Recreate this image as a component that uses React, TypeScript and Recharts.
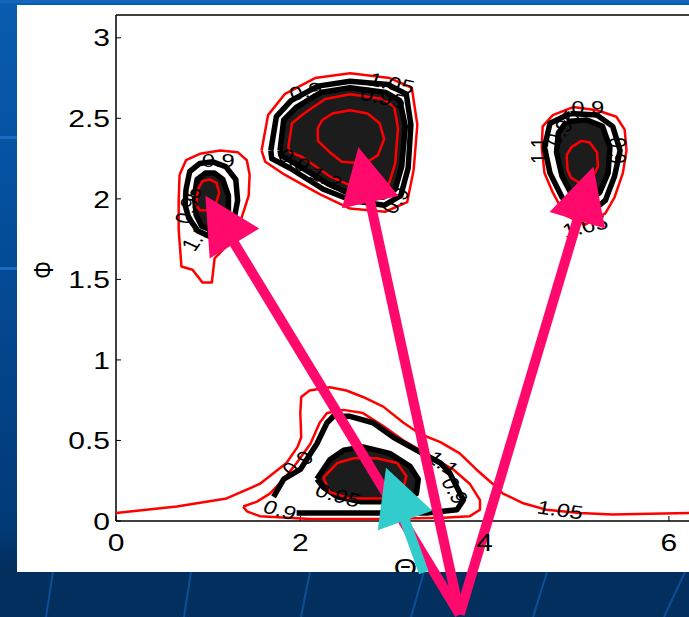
import React from "react";
import { ComposedChart, Scatter, XAxis, YAxis, ReferenceLine } from "recharts";

type Pt = [number, number];

// axes: Θ runs 0..2π, Φ runs 0..π
const THETA_MAX = 2 * Math.PI;
const PHI_MAX = Math.PI;
const THETA_TICKS = [0, 2, 4, 6];
const PHI_TICKS = [0, 0.5, 1, 1.5, 2, 2.5, 3];

// big lobe near (2.5, 2.4)
const BIG_RED_OUTER: Pt[] = [[1.58, 2.3], [1.65, 2.52], [1.83, 2.65], [2.16, 2.75], [2.54, 2.78], [2.97, 2.75], [3.21, 2.69], [3.27, 2.46], [3.23, 2.18], [3.16, 1.98], [2.92, 1.92], [2.54, 1.94], [2.21, 2.03], [1.83, 2.15], [1.62, 2.23]];
const BIG_BLACK_RING: Pt[] = [[1.68, 2.3], [1.74, 2.51], [1.9, 2.61], [2.19, 2.7], [2.54, 2.73], [2.95, 2.71], [3.15, 2.65], [3.2, 2.46], [3.17, 2.19], [3.09, 2.02], [2.91, 1.96], [2.56, 1.99], [2.25, 2.06], [1.89, 2.19], [1.69, 2.25]];
const BIG_CORE: Pt[] = [[1.78, 2.3], [1.82, 2.49], [1.96, 2.57], [2.22, 2.66], [2.54, 2.69], [2.93, 2.66], [3.08, 2.61], [3.14, 2.45], [3.1, 2.2], [3.03, 2.06], [2.9, 2.01], [2.58, 2.02], [2.28, 2.1], [1.94, 2.22], [1.79, 2.27]];
const BIG_RED_EDGE: Pt[] = [[1.87, 2.32], [1.91, 2.47], [2.04, 2.53], [2.27, 2.62], [2.54, 2.65], [2.9, 2.62], [3.02, 2.57], [3.06, 2.44], [3.03, 2.22], [2.96, 2.09], [2.88, 2.05], [2.6, 2.07], [2.32, 2.14], [2.02, 2.26], [1.89, 2.29]];
const BIG_RED_PEAK: Pt[] = [[2.19, 2.44], [2.24, 2.49], [2.35, 2.53], [2.54, 2.55], [2.73, 2.53], [2.86, 2.47], [2.91, 2.37], [2.84, 2.27], [2.7, 2.22], [2.45, 2.23], [2.32, 2.29], [2.19, 2.36]];

// small lobe near (1, 2)
const LEFT_RED_OUTER: Pt[] = [[0.69, 2.15], [0.76, 2.24], [0.91, 2.28], [1.13, 2.3], [1.32, 2.29], [1.42, 2.24], [1.45, 2.15], [1.44, 2.02], [1.35, 1.86], [1.22, 1.72], [1.07, 1.63], [1.04, 1.48], [0.94, 1.48], [0.83, 1.56], [0.71, 1.58], [0.68, 1.81], [0.68, 1.99]];
const LEFT_BLACK_RING: Pt[] = [[0.76, 2.06], [0.8, 2.17], [0.91, 2.22], [1.05, 2.23], [1.19, 2.2], [1.3, 2.12], [1.32, 1.99], [1.28, 1.87], [1.19, 1.79], [1.04, 1.76], [0.89, 1.8], [0.79, 1.88], [0.75, 1.96]];
const LEFT_CORE: Pt[] = [[0.85, 2.02], [0.88, 2.12], [0.97, 2.16], [1.07, 2.16], [1.16, 2.12], [1.22, 2.02], [1.22, 1.92], [1.16, 1.84], [1.05, 1.8], [0.93, 1.83], [0.87, 1.9]];
const LEFT_RED_PEAK: Pt[] = [[0.87, 1.96], [0.89, 2.06], [0.94, 2.11], [1.02, 2.12], [1.09, 2.1], [1.12, 2.04], [1.09, 1.98], [1.0, 1.93], [0.91, 1.93]];

// lobe near (5.1, 2.25)
const RIGHT_RED_OUTER: Pt[] = [[4.96, 2.57], [5.22, 2.55], [5.43, 2.51], [5.52, 2.43], [5.54, 2.3], [5.5, 2.16], [5.41, 2.01], [5.31, 1.91], [5.09, 1.84], [4.87, 1.9], [4.74, 2.04], [4.65, 2.16], [4.62, 2.32], [4.63, 2.45], [4.74, 2.52]];
const RIGHT_BLACK_RING: Pt[] = [[4.93, 2.53], [5.22, 2.52], [5.39, 2.45], [5.47, 2.3], [5.41, 2.14], [5.31, 1.99], [5.14, 1.91], [5.0, 1.91], [4.84, 2.01], [4.71, 2.16], [4.65, 2.32], [4.71, 2.47]];
const RIGHT_CORE: Pt[] = [[4.89, 2.48], [5.11, 2.49], [5.28, 2.45], [5.36, 2.32], [5.34, 2.16], [5.25, 2.04], [5.11, 1.98], [4.96, 2.01], [4.84, 2.14], [4.78, 2.29], [4.8, 2.41]];
const RIGHT_RED_PEAK: Pt[] = [[4.89, 2.27], [4.94, 2.32], [5.05, 2.36], [5.14, 2.35], [5.22, 2.29], [5.23, 2.2], [5.16, 2.12], [5.03, 2.1], [4.94, 2.13], [4.9, 2.18]];

// lobe along the Θ axis near (2.7, 0.3)
const BOTTOM_RED_OUTER: Pt[] = [[0, 0.05], [0.66, 0.09], [1.2, 0.14], [1.56, 0.23], [1.85, 0.36], [1.97, 0.46], [2.01, 0.52], [2.0, 0.67], [2.01, 0.77], [2.1, 0.81], [2.32, 0.83], [2.5, 0.81], [2.68, 0.77], [2.9, 0.71], [3.12, 0.61], [3.3, 0.54], [3.52, 0.49], [3.73, 0.42], [3.91, 0.32], [4.09, 0.23], [4.2, 0.17], [4.42, 0.11], [4.67, 0.07], [5.03, 0.05], [5.39, 0.04], [6.22, 0.05], [6.28, 0.05]];
const BOTTOM_RED_INNER: Pt[] = [[1.38, 0.09], [1.53, 0.12], [1.67, 0.17], [1.82, 0.26], [1.96, 0.36], [2.11, 0.48], [2.21, 0.61], [2.29, 0.67], [2.47, 0.69], [2.68, 0.67], [2.9, 0.59], [3.12, 0.5], [3.3, 0.44], [3.48, 0.38], [3.66, 0.32], [3.84, 0.23], [3.95, 0.13], [3.95, 0.07], [3.84, 0.03], [3.55, 0.02], [2.83, 0.012], [2.11, 0.012], [1.56, 0.03], [1.42, 0.06]];
const BOTTOM_BLACK: Pt[] = [[1.96, 0.05], [2.83, 0.05], [3.37, 0.05], [3.7, 0.07], [3.77, 0.13], [3.62, 0.3], [3.52, 0.36], [3.26, 0.44], [3.01, 0.52], [2.79, 0.61], [2.54, 0.65], [2.36, 0.65], [2.29, 0.61], [2.18, 0.48], [2.0, 0.32], [1.82, 0.26], [1.71, 0.15]];
const BOTTOM_CORE: Pt[] = [[2.18, 0.26], [2.32, 0.38], [2.47, 0.44], [2.68, 0.46], [2.97, 0.42], [3.19, 0.34], [3.28, 0.26], [3.26, 0.17], [3.01, 0.12], [2.65, 0.12], [2.4, 0.15], [2.25, 0.21]];
const BOTTOM_RED_PEAK: Pt[] = [[2.25, 0.27], [2.4, 0.36], [2.58, 0.39], [2.83, 0.39], [3.05, 0.36], [3.15, 0.28], [3.12, 0.21], [2.9, 0.14], [2.54, 0.14], [2.32, 0.18]];

// contour level labels
const LEVEL_LABELS = [
  { x: 4.82, y: 0.07, text: "1.05", angle: 10 },
  { x: 1.78, y: 0.07, text: "0.9", angle: 20 },
  { x: 1.97, y: 0.36, text: "0.9", angle: -45 },
  { x: 2.41, y: 0.16, text: "0.95", angle: 20 },
  { x: 3.55, y: 0.36, text: "1.1", angle: 40 },
  { x: 3.68, y: 0.19, text: "0.9", angle: 65 },
  { x: 2.99, y: 2.72, text: "1.05", angle: 15 },
  { x: 2.9, y: 2.63, text: "0.95", angle: 15 },
  { x: 2.06, y: 2.67, text: "0.9", angle: -15 },
  { x: 1.94, y: 2.24, text: "0.9", angle: 35 },
  { x: 2.28, y: 2.13, text: "1.2", angle: 30 },
  { x: 3.03, y: 1.99, text: "0.9", angle: -60 },
  { x: 1.11, y: 2.24, text: "0.9", angle: 0 },
  { x: 0.78, y: 1.96, text: "0.95", angle: -75 },
  { x: 0.86, y: 1.76, text: "1.1", angle: -60 },
  { x: 5.12, y: 2.57, text: "0.9", angle: 0 },
  { x: 4.84, y: 2.44, text: "0.95", angle: -60 },
  { x: 4.6, y: 2.3, text: "1.1", angle: -90 },
  { x: 5.44, y: 2.3, text: "0.9", angle: 90 },
  { x: 5.09, y: 1.83, text: "1.05", angle: -15 },
];

// arrows pointing at the lobes, all starting below the axis
const ARROW_TAIL = { x: 3.73, y: -0.58 };
const ARROW_TIPS = [
  { x: 0.97, y: 2.02 },
  { x: 2.63, y: 2.32 },
  { x: 5.18, y: 2.2 },
];
const CYAN_ARROW = [
  { x: 3.34, y: -0.32 },
  { x: 2.93, y: 0.33 },
];

const FONT = '"Liberation Sans", Arial, Helvetica, sans-serif';
const RED = "#ff0000";
const INK = "#000000";
const CORE_FILL = "#1c1c1c";
const MAGENTA = "#ff0a6c";
const CYAN = "#33cccc";
const STRETCH = 1.25;

const toXY = (pts: Pt[], close: boolean) => {
  const out = pts.map(([x, y]) => ({ x, y }));
  if (close) out.push({ x: pts[0][0], y: pts[0][1] });
  return out;
};

const redLine = { stroke: RED, strokeWidth: 2.5, fill: "none", strokeLinejoin: "round" };
const blackLine = { stroke: INK, strokeWidth: 5.5, fill: "none", strokeLinejoin: "round" };
const filledCore = { stroke: INK, strokeWidth: 5.5, fill: CORE_FILL, strokeLinejoin: "round" };

const CONTOURS = [
  { data: toXY(BOTTOM_RED_OUTER, false), line: redLine },
  { data: toXY(BOTTOM_RED_INNER, true), line: redLine },
  { data: toXY(BOTTOM_BLACK, false), line: blackLine },
  { data: toXY(BOTTOM_CORE, true), line: filledCore },
  { data: toXY(BOTTOM_RED_PEAK, true), line: redLine },
  { data: toXY(BIG_RED_OUTER, true), line: redLine },
  { data: toXY(BIG_BLACK_RING, true), line: blackLine },
  { data: toXY(BIG_CORE, true), line: filledCore },
  { data: toXY(BIG_RED_EDGE, true), line: redLine },
  { data: toXY(BIG_RED_PEAK, true), line: redLine },
  { data: toXY(LEFT_RED_OUTER, true), line: redLine },
  { data: toXY(LEFT_BLACK_RING, true), line: blackLine },
  { data: toXY(LEFT_CORE, true), line: filledCore },
  { data: toXY(LEFT_RED_PEAK, true), line: redLine },
  { data: toXY(RIGHT_RED_OUTER, true), line: redLine },
  { data: toXY(RIGHT_BLACK_RING, true), line: blackLine },
  { data: toXY(RIGHT_CORE, true), line: filledCore },
  { data: toXY(RIGHT_RED_PEAK, true), line: redLine },
];

const NoDot = () => <g />;

const LevelLabel = (props: any) => {
  const { cx, cy, payload } = props;
  return (
    <text
      transform={`translate(${cx},${cy}) scale(${STRETCH},1) rotate(${payload.angle})`}
      textAnchor="middle"
      dy="0.36em"
      fontSize={19}
      fontFamily={FONT}
      fill={INK}
    >
      {payload.text}
    </text>
  );
};

const ThetaTick = (props: any) => {
  const { x, y, payload } = props;
  return (
    <text
      transform={`translate(${x},${y + 21}) scale(${STRETCH},1)`}
      textAnchor="middle"
      dy="0.36em"
      fontSize={24}
      fontFamily={FONT}
      fill={INK}
    >
      {payload.value}
    </text>
  );
};

const PhiTick = (props: any) => {
  const { x, y, payload } = props;
  return (
    <text
      transform={`translate(${x},${y}) scale(${STRETCH},1)`}
      textAnchor="end"
      dy="0.36em"
      fontSize={24}
      fontFamily={FONT}
      fill={INK}
    >
      {payload.value}
    </text>
  );
};

const PhiLabel = (props: any) => {
  const vb = props.viewBox;
  return (
    <text
      transform={`translate(${vb.x + 27},${vb.y + vb.height / 2 + 2}) rotate(-90) scale(1,${STRETCH})`}
      textAnchor="middle"
      dy="0.36em"
      fontSize={22}
      fontFamily={FONT}
      fill={INK}
    >
      Φ
    </text>
  );
};

// Θ sits at the bottom edge of the white panel and is cut off by it
const ThetaLabel = (props: any) => {
  const vb = props.viewBox;
  return (
    <svg x={vb.x} y={vb.y} width={vb.width} height={vb.height} overflow="hidden">
      <text
        transform={`translate(${vb.width / 2},${vb.height + 4}) scale(${STRETCH},1)`}
        textAnchor="middle"
        fontSize={24}
        fontFamily={FONT}
        fill={INK}
      >
        Θ
      </text>
    </svg>
  );
};

const HEAD_LEN = 56;
const HEAD_HALF = 29;
const SHAFT = 10;

const arrowShape = (color: string) => (props: any) => {
  const { x1, y1, x2, y2 } = props;
  const dx = x2 - x1;
  const dy = y2 - y1;
  const len = Math.hypot(dx, dy) || 1;
  const ux = dx / len;
  const uy = dy / len;
  const bx = x2 - ux * HEAD_LEN;
  const by = y2 - uy * HEAD_LEN;
  const px = -uy * HEAD_HALF;
  const py = ux * HEAD_HALF;
  return (
    <g>
      <line x1={x1} y1={y1} x2={bx + ux * 4} y2={by + uy * 4} stroke={color} strokeWidth={SHAFT} />
      <polygon points={`${x2},${y2} ${bx + px},${by + py} ${bx - px},${by - py}`} fill={color} />
    </g>
  );
};

const magentaArrow = arrowShape(MAGENTA);
const cyanArrow = arrowShape(CYAN);

// faint lines of the slide template
const SlideLines = () => (
  <svg
    width={689}
    height={617}
    style={{ position: "absolute", left: 0, top: 0 }}
  >
    <rect x={0} y={0} width={689} height={3} fill="#1466bd" />
    <rect x={0} y={136} width={17} height={3} fill="#1a6cc2" />
    <rect x={0} y={267} width={17} height={3} fill="#1a6cc2" />
    {[
      [53, 46],
      [191, 184],
      [310, 301],
      [424, 411],
      [547, 533],
      [685, 664],
    ].map(([a, b], i) => (
      <line key={i} x1={a} y1={572} x2={b} y2={617} stroke="#0b4f97" strokeWidth={2} />
    ))}
  </svg>
);

export default function App() {
  return (
    <div
      style={{
        position: "absolute",
        left: 0,
        top: 0,
        width: 689,
        height: 617,
        overflow: "hidden",
        background:
          "linear-gradient(180deg, #0a5cb0 0%, #0552a2 25%, #03468d 55%, #023a77 85%, #022f5e 92.5%, #022f5e 100%)",
      }}
    >
      <SlideLines />
      <div
        style={{
          position: "absolute",
          left: 17,
          top: 5,
          width: 700,
          height: 567,
          background: "#ffffff",
        }}
      />
      <div style={{ position: "absolute", left: 0, top: 0 }}>
        <ComposedChart
          width={720}
          height={617}
          margin={{ top: 13, right: 25, bottom: 45, left: 16 }}
        >
          <XAxis
            xAxisId="top"
            orientation="top"
            type="number"
            domain={[0, THETA_MAX]}
            ticks={THETA_TICKS}
            allowDataOverflow
            interval={0}
            height={2}
            tickSize={-5}
            tickFormatter={() => ""}
            axisLine={{ stroke: INK, strokeWidth: 1.5 }}
            tickLine={{ stroke: INK }}
          />
          <XAxis
            dataKey="x"
            type="number"
            domain={[0, THETA_MAX]}
            ticks={THETA_TICKS}
            allowDataOverflow
            interval={0}
            height={51}
            tickSize={-5}
            tickMargin={5}
            tick={ThetaTick}
            axisLine={{ stroke: INK, strokeWidth: 1.5 }}
            tickLine={{ stroke: INK }}
            label={{ content: ThetaLabel }}
          />
          <YAxis
            dataKey="y"
            type="number"
            domain={[0, PHI_MAX]}
            ticks={PHI_TICKS}
            allowDataOverflow
            interval={0}
            width={100}
            tickSize={-5}
            tickMargin={11}
            tick={PhiTick}
            axisLine={{ stroke: INK, strokeWidth: 1.5 }}
            tickLine={{ stroke: INK }}
            label={{ content: PhiLabel }}
          />

          {CONTOURS.map((c, i) => (
            <Scatter
              key={`contour-${i}`}
              data={c.data}
              line={c.line}
              lineType="joint"
              shape={NoDot}
              legendType="none"
              isAnimationActive={false}
            />
          ))}

          <Scatter
            data={LEVEL_LABELS}
            shape={LevelLabel}
            legendType="none"
            isAnimationActive={false}
          />

          {ARROW_TIPS.map((tip, i) => (
            <ReferenceLine
              key={`arrow-${i}`}
              segment={[ARROW_TAIL, tip]}
              ifOverflow="visible"
              shape={magentaArrow}
              zIndex={1000}
            />
          ))}
          <ReferenceLine
            segment={CYAN_ARROW}
            ifOverflow="visible"
            shape={cyanArrow}
            zIndex={1001}
          />
        </ComposedChart>
      </div>
    </div>
  );
}
